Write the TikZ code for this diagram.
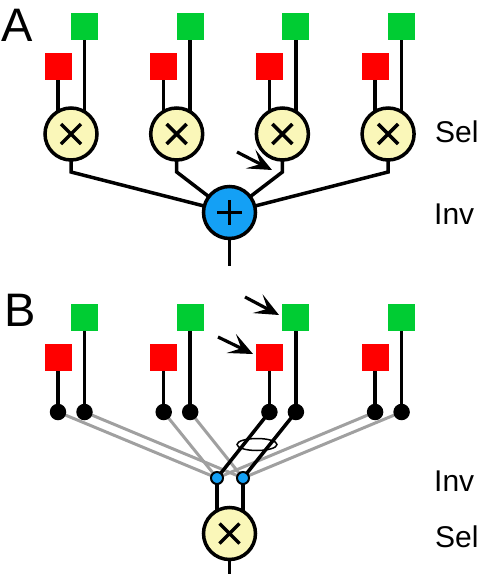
\documentclass[tikz,border=0pt]{standalone}
\usepackage{fontspec}
\setmainfont{Liberation Sans}
\usetikzlibrary{arrows.meta,shapes.geometric}
\pgfdeclarelayer{bg}
\pgfsetlayers{bg,main}
\definecolor{sqred}{RGB}{255,0,0}
\definecolor{sqgreen}{RGB}{0,204,51}
\definecolor{selfill}{RGB}{250,247,185}
\definecolor{invblue}{RGB}{20,160,245}
\definecolor{wgray}{RGB}{160,160,160}
\begin{document}
\begin{tikzpicture}[x=1pt,y=-1pt,
  redsq/.style={fill=sqred, minimum size=27pt, inner sep=0pt, outer sep=0pt},
  greensq/.style={fill=sqgreen, minimum size=27pt, inner sep=0pt, outer sep=0pt},
  selnode/.style={circle, draw=black, line width=3.5pt, fill=selfill, minimum size=52pt, inner sep=0pt},
  invnode/.style={circle, draw=black, line width=3.5pt, fill=invblue, minimum size=52pt, inner sep=0pt},
  bdot/.style={circle, fill=black, minimum size=16.5pt, inner sep=0pt},
  bluedot/.style={circle, draw=black, line width=2pt, fill=invblue, minimum size=12pt, inner sep=0pt},
  wire/.style={line width=3.5pt, black},
  graywire/.style={line width=3pt, wgray},
  symb/.style={line width=3.5pt, black},
  arrowline/.style={line width=3.2pt, -{Stealth[length=24pt, width=21pt, inset=11pt]}},
  lbl/.style={font=\fontsize{30}{34}\selectfont, inner sep=0pt},
  panel/.style={font=\fontsize{47}{54}\selectfont, inner sep=0pt}
]
\useasboundingbox (0,0) rectangle (481,574);

% ---------------- Panel A ----------------
\node[panel] (labA) at (17,25) {A};
\node[invnode] (p) at (229.5,212.5) {};
\draw[symb, shift={(p.center)}] (-12.5,0) -- (12.5,0) (0,-12.5) -- (0,12.5);
\coordinate (pend) at (229.5,266);
\begin{pgfonlayer}{bg}
  \draw[wire] (p.center) -- (pend);
\end{pgfonlayer}

\foreach \i in {1,...,4} {
  \pgfmathsetmacro{\rx}{58+105.7*(\i-1)}
  \pgfmathsetmacro{\gx}{\rx+26.5}
  \pgfmathsetmacro{\cx}{\rx+13}
  \node[redsq] (r\i) at (\rx,66) {};
  \node[greensq] (g\i) at (\gx,26.5) {};
  \node[selnode] (c\i) at (\cx,134) {};
  \draw[symb, shift={(c\i.center)}] (-10,-10) -- (10,10) (-10,10) -- (10,-10);
  \coordinate (k\i) at (\cx,172);
  \begin{pgfonlayer}{bg}
    \draw[wire] (r\i.south) -- (r\i.south |- c\i.center);
    \draw[wire] (g\i.south) -- (g\i.south |- c\i.center);
    \draw[wire] (c\i.center) -- (k\i) -- (p.center);
  \end{pgfonlayer}
}

\coordinate (aAs) at (237,152);
\coordinate (aAe) at (272,170);
\draw[arrowline] (aAs) -- (aAe);

\node[lbl, anchor=west] (selA) at (435,132) {Sel};
\node[lbl, anchor=west] (invA) at (434,214) {Inv};

% ---------------- Panel B ----------------
\node[panel] (labB) at (20,310) {B};
\node[bluedot] (b1) at (217,478) {};
\node[bluedot] (b2) at (243,478) {};
\node[selnode] (cs) at (229.5,533.5) {};
\draw[symb, shift={(cs.center)}] (-10,-10) -- (10,10) (-10,10) -- (10,-10);
\coordinate (csend) at (229.5,575);

\foreach \i in {1,...,4} {
  \pgfmathsetmacro{\rx}{58+105.7*(\i-1)}
  \pgfmathsetmacro{\gx}{\rx+26.5}
  \node[redsq] (rb\i) at (\rx,357.5) {};
  \node[greensq] (gb\i) at (\gx,317.5) {};
  \node[bdot] (dr\i) at (\rx,412) {};
  \node[bdot] (dg\i) at (\gx,412) {};
  \begin{pgfonlayer}{bg}
    \draw[wire] (rb\i.south) -- (dr\i.center);
    \draw[wire] (gb\i.south) -- (dg\i.center);
  \end{pgfonlayer}
}

\begin{pgfonlayer}{bg}
  \foreach \i in {1,2,4} {
    \draw[graywire] (dr\i.center) -- (b1.center);
    \draw[graywire] (dg\i.center) -- (b2.center);
  }
  \draw[wire] (dr3.center) -- (b1.center);
  \draw[wire] (dg3.center) -- (b2.center);
  \draw[wire] (b1.center) -- (b1.center |- cs.center);
  \draw[wire] (b2.center) -- (b2.center |- cs.center);
  \draw[wire] (cs.center) -- (csend);
\end{pgfonlayer}

\node[draw=black, line width=1.5pt, ellipse, minimum width=40pt, minimum height=12pt, inner sep=0pt] (ring) at (257,444.5) {};

\coordinate (aB1s) at (245,297);
\coordinate (aB1e) at (279,315);
\draw[arrowline] (aB1s) -- (aB1e);
\coordinate (aB2s) at (218,337);
\coordinate (aB2e) at (253,354);
\draw[arrowline] (aB2s) -- (aB2e);

\node[lbl, anchor=west] (invB) at (434,481) {Inv};
\node[lbl, anchor=west] (selB) at (435,537) {Sel};
\end{tikzpicture}
\end{document}
